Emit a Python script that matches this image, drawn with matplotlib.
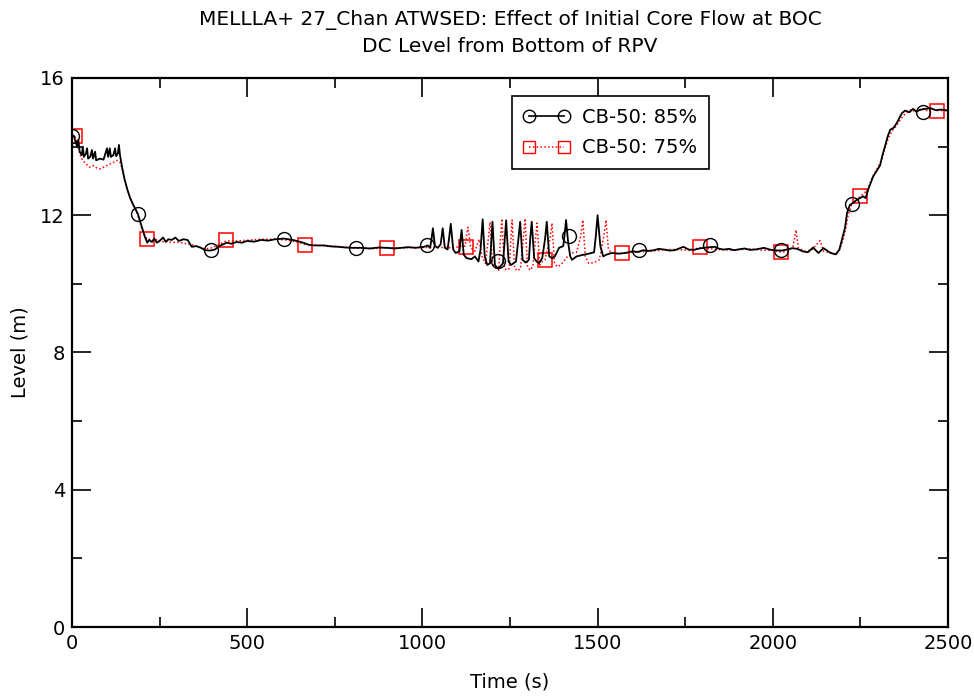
import numpy as np
import matplotlib
matplotlib.use("Agg")
import matplotlib.pyplot as plt
from matplotlib.lines import Line2D
from matplotlib.ticker import MultipleLocator

# ---- data: CB-50: 85% (black), (time s, level m) ----
pts85 = [
    (0, 14.30), (5, 14.32), (10, 14.15), (15, 14.00), (18, 14.20), (22, 13.85), (28, 13.75), (31, 14.00),
    (34, 13.70), (40, 13.80), (43, 13.95), (46, 13.65), (52, 13.70), (57, 13.90), (60, 13.65), (66, 13.85),
    (69, 13.60), (80, 13.65), (90, 13.62), (100, 13.95), (103, 13.70), (108, 13.95), (111, 13.70),
    (118, 13.75), (123, 13.95), (126, 13.72), (131, 13.80), (134, 14.05), (137, 13.75), (143, 13.40),
    (150, 13.05), (158, 12.75), (166, 12.50), (175, 12.30), (188, 12.04), (198, 11.70), (208, 11.37),
    (215, 11.20), (220, 11.28), (228, 11.22), (235, 11.32), (242, 11.20), (250, 11.25), (260, 11.35),
    (268, 11.22), (275, 11.30), (285, 11.28), (295, 11.35), (305, 11.25), (318, 11.30), (330, 11.28),
    (342, 11.08), (355, 11.10), (368, 11.05), (380, 10.98), (395, 10.97), (408, 11.00), (420, 11.10),
    (442, 11.20), (455, 11.17), (470, 11.22), (485, 11.20), (500, 11.25), (520, 11.23), (540, 11.28),
    (560, 11.26), (580, 11.30), (605, 11.32), (630, 11.28), (645, 11.24), (660, 11.20), (675, 11.14),
    (690, 11.12), (720, 11.12), (740, 11.09), (760, 11.08), (780, 11.06), (800, 11.05), (825, 11.05),
    (850, 11.03), (875, 11.06), (900, 11.05), (920, 11.03), (940, 11.05), (960, 11.07), (980, 11.05),
    (1005, 11.08), (1015, 11.12), (1022, 11.05), (1026, 11.30), (1030, 11.62), (1036, 11.10),
    (1044, 11.05), (1052, 11.15), (1056, 11.45), (1058, 11.62), (1064, 11.05), (1072, 11.00), (1077, 11.40),
    (1081, 11.75), (1088, 11.00), (1095, 10.90), (1106, 10.95), (1109, 11.30), (1112, 11.57), (1118, 10.85),
    (1126, 10.75), (1140, 10.72), (1150, 10.80), (1160, 10.65), (1166, 11.00), (1172, 11.88), (1178, 10.80),
    (1185, 10.55), (1193, 10.60), (1197, 11.30), (1200, 11.81), (1207, 10.55), (1215, 10.45), (1222, 10.50),
    (1230, 10.60), (1235, 11.30), (1239, 11.85), (1246, 10.65), (1253, 10.55), (1260, 10.60), (1267, 10.65),
    (1274, 11.30), (1279, 11.81), (1286, 10.70), (1295, 10.62), (1304, 10.70), (1308, 11.35), (1312, 11.81),
    (1319, 10.75), (1326, 10.65), (1333, 10.60), (1342, 10.75), (1350, 11.30), (1355, 11.81), (1362, 10.80),
    (1370, 10.75), (1378, 10.80), (1390, 11.05), (1402, 11.10), (1406, 11.45), (1410, 11.86), (1416, 11.20),
    (1422, 10.80), (1427, 10.70), (1440, 10.80), (1460, 10.85), (1475, 10.88), (1490, 10.92), (1495, 11.40),
    (1500, 12.00), (1508, 11.10), (1516, 10.80), (1525, 10.85), (1540, 10.90), (1560, 10.88), (1580, 10.90),
    (1600, 10.95), (1615, 10.93), (1630, 10.98),
    (1645, 10.96), (1660, 10.98), (1675, 11.02), (1690, 11.00), (1705, 10.97), (1720, 10.98), (1745, 11.08),
    (1760, 11.00), (1775, 10.99), (1790, 11.03), (1810, 11.06), (1835, 11.08), (1848, 11.02), (1860, 11.00),
    (1875, 11.02), (1890, 10.98), (1905, 11.01), (1920, 11.03), (1935, 10.99), (1950, 11.00), (1975, 11.05),
    (1988, 11.01), (2000, 10.98), (2025, 10.97), (2040, 11.00), (2055, 11.04), (2070, 11.02), (2085, 10.95),
    (2100, 10.92), (2115, 11.06), (2130, 10.90), (2145, 11.04), (2165, 10.90),
    (2180, 10.86), (2190, 11.00), (2197, 11.28), (2206, 11.63), (2212, 12.07), (2220, 12.30), (2229, 12.36),
    (2240, 12.45), (2258, 12.55), (2265, 12.50), (2272, 12.74), (2286, 13.12), (2300, 13.35), (2306, 13.45),
    (2313, 13.75), (2320, 14.00), (2328, 14.30), (2335, 14.49), (2345, 14.55), (2354, 14.69), (2362, 14.85),
    (2369, 14.98), (2378, 15.05), (2390, 15.00), (2400, 15.10), (2410, 15.02), (2420, 15.07), (2435, 15.10),
    (2450, 15.12), (2465, 15.06), (2480, 15.08), (2500, 15.05),
]

# ---- data: CB-50: 75% (red), (time s, level m) ----
pts75 = [
    (0, 14.30), (8, 14.32), (15, 14.10), (22, 13.80), (30, 13.60), (40, 13.50), (50, 13.40), (60, 13.45),
    (70, 13.38), (80, 13.35), (90, 13.40), (100, 13.45), (110, 13.50), (120, 13.55), (130, 13.60),
    (137, 13.55), (143, 13.35), (150, 13.05), (158, 12.75), (166, 12.50), (175, 12.30), (188, 12.00),
    (198, 11.65), (208, 11.40), (215, 11.30), (225, 11.30), (235, 11.25), (245, 11.30), (255, 11.22),
    (270, 11.25), (285, 11.20), (300, 11.22), (320, 11.18), (340, 11.15), (360, 11.08), (380, 11.02),
    (400, 11.05), (420, 11.15), (440, 11.25), (470, 11.25), (500, 11.27), (540, 11.30), (580, 11.30),
    (610, 11.28), (640, 11.22), (665, 11.15), (700, 11.12), (740, 11.10), (780, 11.07), (820, 11.04),
    (860, 11.03), (900, 11.05), (940, 11.05), (980, 11.06), (1020, 11.06), (1060, 11.06), (1090, 11.05),
    (1110, 11.10), (1122, 11.10), (1126, 11.40), (1130, 11.65), (1138, 11.05), (1150, 10.95), (1162, 11.30),
    (1170, 10.80), (1180, 10.60), (1188, 11.30), (1193, 11.80), (1200, 10.60), (1210, 10.45), (1218, 10.40),
    (1222, 11.20), (1227, 11.90), (1234, 10.45), (1242, 10.40), (1248, 10.45), (1252, 11.20), (1256, 11.86),
    (1263, 10.45), (1272, 10.38), (1280, 10.45), (1288, 11.30), (1293, 11.90), (1300, 10.50), (1308, 10.40),
    (1315, 10.50), (1322, 11.25), (1327, 11.77), (1335, 10.55), (1342, 10.65), (1350, 10.70), (1364, 11.30),
    (1370, 11.77), (1377, 10.60), (1385, 10.50), (1395, 10.55), (1410, 10.75), (1425, 10.90), (1440, 10.92),
    (1452, 11.40), (1458, 11.86), (1465, 10.80), (1475, 10.60), (1490, 10.62), (1505, 10.70), (1518, 11.40),
    (1524, 11.86), (1531, 11.00), (1540, 10.90), (1560, 10.88), (1580, 10.90), (1610, 10.92), (1640, 10.95),
    (1670, 10.97), (1700, 11.00),
    (1730, 11.00), (1760, 10.98), (1792, 11.05), (1820, 11.02), (1850, 11.00), (1880, 10.98), (1910, 11.00),
    (1940, 11.02), (1970, 10.98), (2000, 10.98), (2025, 10.92), (2045, 10.95), (2058, 11.10), (2066, 11.57),
    (2073, 11.05), (2090, 10.95), (2110, 10.98), (2135, 11.26), (2145, 10.95), (2165, 10.90), (2180, 10.85),
    (2190, 10.98), (2200, 11.25), (2208, 11.60), (2215, 12.00), (2225, 12.30), (2240, 12.45), (2249, 12.55),
    (2262, 12.65), (2272, 12.80), (2286, 13.15), (2300, 13.40), (2310, 13.60), (2320, 13.95), (2330, 14.25),
    (2340, 14.45), (2352, 14.60), (2362, 14.75), (2372, 14.90), (2385, 15.00), (2395, 15.08), (2410, 15.00),
    (2425, 15.12), (2440, 15.05), (2455, 15.10), (2469, 15.05), (2485, 15.05), (2500, 15.05),
]

# marker positions
mk85_t = [0, 187, 397, 605, 810, 1013, 1216, 1418, 1618, 1821, 2023, 2226, 2429]
mk85_L = [14.30, 12.04, 11.00, 11.31, 11.04, 11.12, 10.66, 11.40, 10.99, 11.12, 10.98, 12.33, 15.00]
mk75_t = [8, 214, 440, 665, 899, 1124, 1350, 1570, 1792, 2023, 2249, 2469]
mk75_L = [14.31, 11.31, 11.27, 11.13, 11.05, 11.08, 10.70, 10.90, 11.06, 10.93, 12.55, 15.04]

labels = ["CB-50: 85%", "CB-50: 75%"]

t85, L85 = zip(*pts85)
t75, L75 = zip(*pts75)

fig = plt.figure(figsize=(9.74, 6.98), dpi=100)
ax = fig.add_axes([0.0739, 0.1017, 0.8994, 0.7866])

red_ls = (0, (1, 1.5))
ax.plot(t75, L75, color="red", lw=1.1, ls=red_ls)
ax.plot(mk75_t, mk75_L, ls="none", marker="s", ms=10, mfc="none", mec="red", mew=1.1)
ax.plot(t85, L85, color="black", lw=1.3)
ax.plot(mk85_t, mk85_L, ls="none", marker="o", ms=10, mfc="none", mec="black", mew=1.0)

ax.set_xlim(0, 2500)
ax.set_ylim(0, 16)
ax.xaxis.set_major_locator(MultipleLocator(500))
ax.xaxis.set_minor_locator(MultipleLocator(250))
ax.yaxis.set_major_locator(MultipleLocator(4))
ax.yaxis.set_minor_locator(MultipleLocator(2))
ax.tick_params(which="both", direction="in", top=True, right=True, labelsize=14, width=1.2)
ax.tick_params(which="major", length=14, pad=5)
ax.tick_params(which="minor", length=7)
for s in ax.spines.values():
    s.set_linewidth(1.6)

ax.set_xlabel("Time (s)", fontsize=14, labelpad=14)
ax.set_ylabel("Level (m)", fontsize=14, labelpad=8)
ax.set_title("MELLLA+ 27_Chan ATWSED: Effect of Initial Core Flow at BOC\nDC Level from Bottom of RPV",
             fontsize=14.5, linespacing=1.45, pad=19)

h1 = Line2D([], [], color="black", lw=1.2, marker="o", ms=9, mfc="none", mec="black")
h2 = Line2D([], [], color="red", lw=1.1, ls=red_ls, marker="s", ms=9, mfc="none", mec="red")
leg = ax.legend([h1, h2], labels, loc="upper left", bbox_to_anchor=(0.502, 0.967), fontsize=14,
                fancybox=False, edgecolor="black", framealpha=1, handlelength=2.4, numpoints=2,
                borderpad=0.6, labelspacing=0.6, borderaxespad=0, handletextpad=0.6)
leg.get_frame().set_linewidth(1.2)

fig.savefig("out.png", dpi=100)
